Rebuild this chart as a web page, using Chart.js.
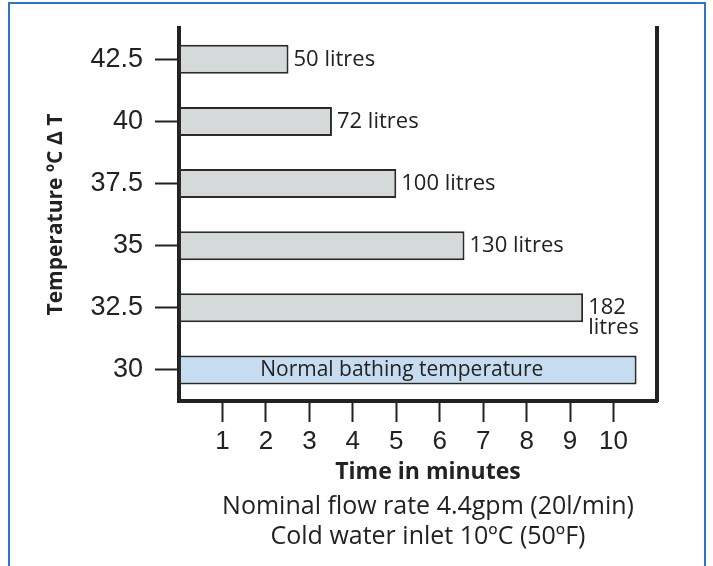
<!DOCTYPE html>
<html>
<head>
<meta charset="utf-8">
<script src="https://cdn.jsdelivr.net/npm/chart.js"></script>
<style>
  html, body { margin: 0; padding: 0; background: #fff; }
  #wrap { position: relative; width: 713px; height: 566px; overflow: hidden; }
  #frame { position: absolute; left: 8px; top: 2px; width: 694px; height: 620px; border: 2px solid #2f76c2; }
  #chart { position: absolute; left: 0; top: 0; }
</style>
</head>
<body>
<div id="wrap">
  <div id="frame"></div>
  <canvas id="chart" width="713" height="566"></canvas>
</div>
<script>
// temperature rise rows, top to bottom
const temps = ["42.5", "40", "37.5", "35", "32.5", "30"];
// time in minutes that each bar reaches
const minutes = [2.52, 3.52, 5.0, 6.57, 9.3, 10.53];
const barLabels = ["50 litres", "72 litres", "100 litres", "130 litres", ["182", "litres"], "Normal bathing temperature"];
const xTicks = [1, 2, 3, 4, 5, 6, 7, 8, 9, 10];
const xMax = 11;
const xTitle = "Time in minutes";
const yTitle = "Temperature ºC Δ T";
const notes = ["Nominal flow rate 4.4gpm (20l/min)", "Cold water inlet 10ºC (50ºF)"];

const normalRow = temps.indexOf("30");
const ink = "#222";

const barText = {
  id: "barText",
  afterDatasetsDraw(chart) {
    const ctx = chart.ctx;
    const bars = chart.getDatasetMeta(0).data;
    ctx.save();
    ctx.fillStyle = ink;
    ctx.textBaseline = "middle";

    bars.forEach((bar, i) => {
      if (i === normalRow) {
        ctx.font = '21px "Open Sans"';
        ctx.textAlign = "center";
        ctx.fillText(barLabels[i], (bar.base + bar.x) / 2 - 6, bar.y);
      } else {
        ctx.font = '22px "Open Sans"';
        ctx.textAlign = "left";
        [].concat(barLabels[i]).forEach((line, j) => {
          ctx.fillText(line, bar.x + 5, bar.y + j * 20);
        });
      }
    });

    // title + notes under the x axis
    const area = chart.chartArea;
    const cx = (area.left + area.right) / 2 + 10;
    ctx.textAlign = "center";
    ctx.font = 'bold 23px "Open Sans"';
    ctx.fillText(xTitle, cx, area.bottom + 71);
    ctx.font = '25px "Open Sans"';
    notes.forEach((line, j) => ctx.fillText(line, cx, area.bottom + 106 + j * 30));
    ctx.restore();
  }
};

function drawChart() {
  new Chart(document.getElementById("chart"), {
    type: "bar",
    data: {
      labels: temps,
      datasets: [{
        data: minutes,
        backgroundColor: temps.map((t, i) => i === normalRow ? "#c6ddf1" : "#d5d9da"),
        borderColor: "#2a2a2a",
        borderWidth: 2,
        borderSkipped: false,
        categoryPercentage: 1,
        barPercentage: 0.466
      }]
    },
    options: {
      indexAxis: "y",
      responsive: false,
      animation: false,
      layout: { padding: { top: 28, left: 0, right: 0, bottom: 0 } },
      plugins: { legend: { display: false }, tooltip: { enabled: false } },
      scales: {
        x: {
          type: "linear",
          min: 0,
          max: xMax,
          afterBuildTicks(s) { s.ticks = xTicks.map(v => ({ value: v })); },
          grid: { drawOnChartArea: false, tickLength: 21, tickWidth: 2, tickColor: ink },
          border: { display: true, width: 4, color: ink },
          ticks: { font: { family: "Liberation Sans", size: 26 }, color: ink, padding: 4, maxRotation: 0 },
          afterFit(s) { s.height = 165; }
        },
        y: {
          grid: { offset: false, drawOnChartArea: false, tickLength: 24, tickWidth: 2, tickColor: ink },
          border: { display: true, width: 4, color: ink },
          ticks: { font: { family: "Liberation Sans", size: 27 }, color: ink, padding: 12 },
          title: {
            display: true,
            text: yTitle,
            color: ink,
            font: { family: "Open Sans", size: 21, weight: "bold" },
            padding: { top: 43, bottom: 0 }
          },
          afterFit(s) { s.width = 179; }
        },
        y2: {
          type: "linear",
          position: "right",
          grid: { display: false, drawTicks: false },
          border: { display: true, width: 4, color: ink },
          ticks: { display: false },
          afterFit(s) { s.width = 56; }
        }
      }
    },
    plugins: [barText]
  });
}

Promise.all([
  document.fonts.load('21px "Open Sans"'),
  document.fonts.load('bold 23px "Open Sans"'),
  document.fonts.load('23px "Liberation Sans"')
]).then(drawChart, drawChart);
</script>
</body>
</html>
